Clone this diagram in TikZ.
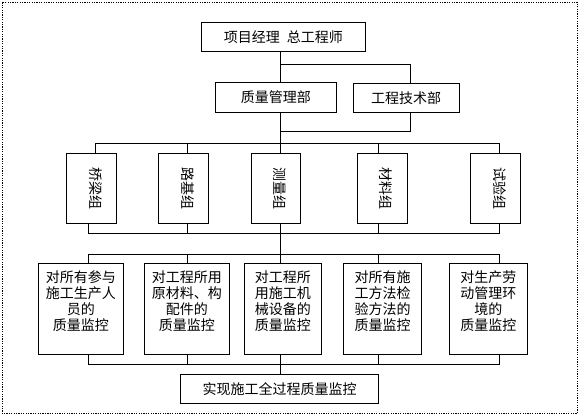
\documentclass[tikz,border=0pt]{standalone}
\usepackage{fontspec}
\newfontfamily\cjk{Noto Sans CJK SC}
\begin{document}
\begin{tikzpicture}[x=1pt,y=-1pt,line width=0.9pt,line cap=rect]
\tikzset{
  box/.style={draw, line width=0.9pt, inner sep=0pt, align=center,
    font=\cjk\fontsize{14}{16}\selectfont},
  txt/.style={inner sep=0pt, align=center, font=\cjk\fontsize{14}{16}\selectfont},
  frame/.style={line width=0.8pt, dash pattern=on 1.2pt off 1.2pt, line cap=butt}
}
\useasboundingbox (0,0) rectangle (580,416);
\draw[frame] (2.3,2.3) rectangle (577.3,413.3);

% top levels
\node[box, minimum width=163.3pt, minimum height=28.7pt] (top) at (283.3,36.7) {项目经理\hspace{7pt}总工程师};
\node[box, minimum width=121.7pt, minimum height=29.6pt] (qm) at (275.8,97.5) {质量管理部};
\node[box, minimum width=106pt, minimum height=29.4pt] (gj) at (406,98) {工程技术部};

% group boxes
\node[box, minimum width=50pt, minimum height=70pt] (g1) at (91.7,188.3) {};
\node[box, minimum width=50.4pt, minimum height=70pt] (g2) at (183.5,188.3) {};
\node[box, minimum width=48.7pt, minimum height=70pt] (g3) at (275.7,188.3) {};
\node[box, minimum width=50pt, minimum height=70pt] (g4) at (382.3,188.3) {};
\node[box, minimum width=50.4pt, minimum height=70pt] (g5) at (495.5,188.3) {};
\node[txt, rotate=-90] (g1t) at ([xshift=4pt]g1.center) {桥梁组};
\node[txt, rotate=-90] (g2t) at ([xshift=4pt]g2.center) {路基组};
\node[txt, rotate=-90] (g3t) at ([xshift=4pt]g3.center) {测量组};
\node[txt, rotate=-90] (g4t) at ([xshift=4pt]g4.center) {材料组};
\node[txt, rotate=-90] (g5t) at ([xshift=4pt]g5.center) {试验组};

% monitoring boxes
\node[box, minimum width=85pt, minimum height=91pt] (b1) at (80.8,308.8) {};
\node[box, minimum width=85pt, minimum height=91pt] (b2) at (186.8,308.8) {};
\node[box, minimum width=77.7pt, minimum height=91pt] (b3) at (282.9,308.8) {};
\node[box, minimum width=78.4pt, minimum height=91pt] (b4) at (382.5,308.8) {};
\node[box, minimum width=78pt, minimum height=91pt] (b5) at (488.3,308.8) {};
\node[txt] (b1t) at (80.8,300.8) {对所有参与\\施工生产人\\员的\\质量监控};
\node[txt] (b2t) at (186.8,300.8) {对工程所用\\原材料、构\\配件的\\质量监控};
\node[txt] (b3t) at (282.9,300.8) {对工程所\\用施工机\\械设备的\\质量监控};
\node[txt] (b4t) at (382.5,300.8) {对所有施\\工方法检\\验方法的\\质量监控};
\node[txt] (b5t) at (488.3,300.8) {对生产劳\\动管理环\\境的\\质量监控};

\node[box, minimum width=197.6pt, minimum height=29pt] (fin) at (279.5,388.8) {实现施工全过程质量监控};

% junction coordinates
\coordinate (j1) at (280,64.3);
\coordinate (j1r) at (410.7,64.3);
\coordinate (j2) at (410.7,131.7);
\foreach \i/\xa/\xb in {1/95.7/88.3, 2/187.3/187.3, 3/280/280, 4/378.3/378.3, 5/499.3/499.3}{
  \coordinate (a\i) at (\xa,143.3);
  \coordinate (p\i) at (\xb,233.3);
  \coordinate (q\i) at (\xb,254);
  \coordinate (r\i) at (\xb,364);
}

% connectors
\draw (j1 |- top.south) -- (j1 |- qm.north);
\draw (j1) -- (j1r) -- (j1r |- gj.north);
\draw (j1 |- qm.south) -- (a3);
\draw (j2 |- gj.south) -- (j2) -- (j1 |- j2);
\draw (a1) -- (a5);
\foreach \i in {1,...,5} \draw (a\i) -- (a\i |- g\i.north);
\foreach \i in {1,...,5} \draw (p\i |- g\i.south) -- (p\i);
\draw (p1) -- (p5);
\draw (p3) -- (q3);
\draw (q1) -- (q5);
\foreach \i in {1,...,5} \draw (q\i) -- (q\i |- b\i.north);
\foreach \i in {1,...,5} \draw (r\i |- b\i.south) -- (r\i);
\draw (r1) -- (r5);
\draw (r3) -- (r3 |- fin.north);
\end{tikzpicture}
\end{document}
